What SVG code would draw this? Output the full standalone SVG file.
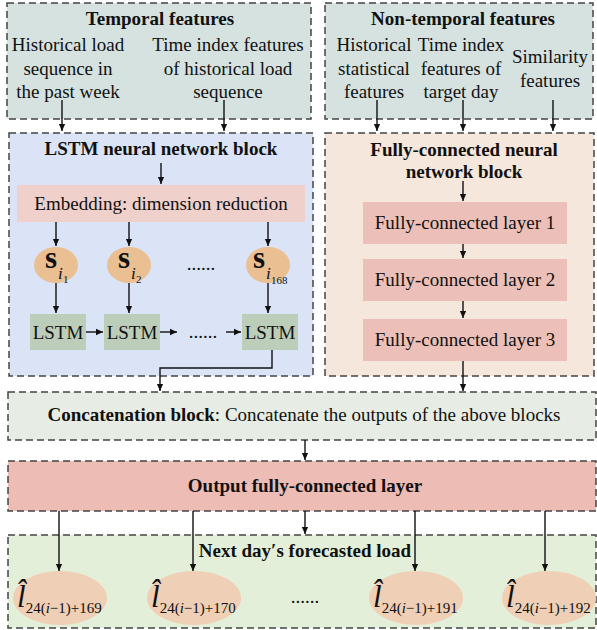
<svg xmlns="http://www.w3.org/2000/svg" width="597" height="630" viewBox="0 0 597 630" font-family="Liberation Serif, serif">
<defs>
<marker id="ah" viewBox="0 0 10 10" refX="10" refY="5" markerWidth="7" markerHeight="8" markerUnits="userSpaceOnUse" orient="auto">
<path d="M0,0.5 L10,5 L0,9.5 z" fill="#111"/>
</marker>
<style>
.blk{stroke:#444;stroke-width:1.5;stroke-dasharray:7,4}
.t{font-size:19px;fill:#111;text-anchor:middle}
.b{font-weight:bold}
.c{stroke:#111;stroke-width:1.4;fill:none}
.a{marker-end:url(#ah)}
.sub{fill:#111}
</style>
</defs>

<g id="temporal">
<rect class="blk" x="7" y="3" width="304" height="116" fill="#d5e2e0"/>
<text class="t b" x="160" y="25" font-family="Liberation Serif, serif">Temporal features</text>
<text class="t" x="68" y="51" font-family="Liberation Serif, serif">Historical load</text>
<text class="t" x="68" y="75" font-family="Liberation Serif, serif">sequence in</text>
<text class="t" x="68" y="98" font-family="Liberation Serif, serif">the past week</text>
<text class="t" x="228" y="51" font-family="Liberation Serif, serif">Time index features</text>
<text class="t" x="228" y="75" font-family="Liberation Serif, serif">of historical load</text>
<text class="t" x="228" y="98" font-family="Liberation Serif, serif">sequence</text>
</g>

<g id="nontemporal">
<rect class="blk" x="325" y="3" width="268" height="116" fill="#d5e2e0"/>
<text class="t b" x="463" y="25" font-family="Liberation Serif, serif">Non-temporal features</text>
<text class="t" x="374" y="51" font-family="Liberation Serif, serif">Historical</text>
<text class="t" x="374" y="75" font-family="Liberation Serif, serif">statistical</text>
<text class="t" x="374" y="98" font-family="Liberation Serif, serif">features</text>
<text class="t" x="461" y="51" font-family="Liberation Serif, serif">Time index</text>
<text class="t" x="461" y="75" font-family="Liberation Serif, serif">features of</text>
<text class="t" x="461" y="98" font-family="Liberation Serif, serif">target day</text>
<text class="t" x="550" y="63" font-family="Liberation Serif, serif">Similarity</text>
<text class="t" x="550" y="87" font-family="Liberation Serif, serif">features</text>
</g>

<g id="lstm-block">
<rect class="blk" x="9" y="133" width="304" height="243" fill="#dbe4f6"/>
<text class="t b" x="161" y="155" font-family="Liberation Serif, serif">LSTM neural network block</text>
</g>

<g id="embedding">
<rect x="17" y="185" width="288" height="37" fill="#f0d0cb"/>
<text class="t" x="161" y="210" font-family="Liberation Serif, serif">Embedding: dimension reduction</text>
</g>

<g id="s1">
<ellipse cx="56" cy="265" rx="22" ry="18" fill="#eabf92"/>
<text class="sub" x="45" y="268" font-size="31" font-weight="bold" font-family="Liberation Serif, serif">s</text>
<text class="sub" x="58" y="279" font-size="17" font-style="italic" font-family="Liberation Serif, serif">i</text>
<text class="sub" x="63" y="283" font-size="11" font-family="Liberation Serif, serif">1</text>
</g>
<g id="s2">
<ellipse cx="129" cy="265" rx="22" ry="18" fill="#eabf92"/>
<text class="sub" x="118" y="268" font-size="31" font-weight="bold" font-family="Liberation Serif, serif">s</text>
<text class="sub" x="131" y="279" font-size="17" font-style="italic" font-family="Liberation Serif, serif">i</text>
<text class="sub" x="136" y="283" font-size="11" font-family="Liberation Serif, serif">2</text>
</g>
<g id="s168">
<ellipse cx="268" cy="265" rx="22" ry="18" fill="#eabf92"/>
<text class="sub" x="253" y="268" font-size="31" font-weight="bold" font-family="Liberation Serif, serif">s</text>
<text class="sub" x="266" y="279" font-size="17" font-style="italic" font-family="Liberation Serif, serif">i</text>
<text class="sub" x="271" y="284" font-size="11" font-family="Liberation Serif, serif">168</text>
</g>
<text class="t" x="201" y="270" font-family="Liberation Serif, serif">......</text>

<g id="lstm1">
<rect x="30" y="314" width="56" height="36" fill="#bccdb9"/>
<text class="t" x="58" y="339" font-family="Liberation Serif, serif">LSTM</text>
</g>
<g id="lstm2">
<rect x="104" y="314" width="56" height="36" fill="#bccdb9"/>
<text class="t" x="132" y="339" font-family="Liberation Serif, serif">LSTM</text>
</g>
<g id="lstm3">
<rect x="242" y="314" width="56" height="36" fill="#bccdb9"/>
<text class="t" x="270" y="339" font-family="Liberation Serif, serif">LSTM</text>
</g>
<text class="t" x="203" y="338" font-family="Liberation Serif, serif">......</text>

<g id="fc-block">
<rect class="blk" x="325" y="133" width="269" height="243" fill="#f6e7dc"/>
<text class="t b" x="464" y="156" font-family="Liberation Serif, serif">Fully-connected neural</text>
<text class="t b" x="464" y="178" font-family="Liberation Serif, serif">network block</text>
</g>
<g id="fc1">
<rect x="363" y="202" width="204" height="42" fill="#ecc0b8"/>
<text class="t" x="465" y="229" font-family="Liberation Serif, serif">Fully-connected layer 1</text>
</g>
<g id="fc2">
<rect x="363" y="259" width="204" height="42" fill="#ecc0b8"/>
<text class="t" x="465" y="286" font-family="Liberation Serif, serif">Fully-connected layer 2</text>
</g>
<g id="fc3">
<rect x="363" y="319" width="204" height="42" fill="#ecc0b8"/>
<text class="t" x="465" y="346" font-family="Liberation Serif, serif">Fully-connected layer 3</text>
</g>

<g id="concat">
<rect class="blk" x="8" y="392" width="588" height="48" fill="#e7ede5"/>
<text class="t" x="304" y="421" font-family="Liberation Serif, serif"><tspan font-weight="bold">Concatenation block</tspan>: Concatenate the outputs of the above blocks</text>
</g>

<g id="output">
<rect class="blk" x="8" y="461" width="588" height="50" fill="#ecbcb5"/>
<text class="t b" x="305" y="492" font-family="Liberation Serif, serif">Output fully-connected layer</text>
</g>

<g id="nextday">
<rect class="blk" x="8" y="535" width="588" height="93" fill="#e4efd9"/>
<text class="t b" x="305" y="557" font-family="Liberation Serif, serif">Next day′s forecasted load</text>
</g>

<g id="l169">
<ellipse cx="60" cy="598" rx="47" ry="27" fill="#efcfb5"/>
<text class="sub" x="17" y="607" font-size="31" font-style="italic" font-family="Liberation Serif, serif">l̂<tspan font-size="15" font-style="normal" dy="6">24(<tspan font-style="italic">i</tspan>−1)+169</tspan></text>
</g>
<g id="l170">
<ellipse cx="194" cy="598" rx="47" ry="27" fill="#efcfb5"/>
<text class="sub" x="151" y="607" font-size="31" font-style="italic" font-family="Liberation Serif, serif">l̂<tspan font-size="15" font-style="normal" dy="6">24(<tspan font-style="italic">i</tspan>−1)+170</tspan></text>
</g>
<g id="l191">
<ellipse cx="416" cy="598" rx="47" ry="27" fill="#efcfb5"/>
<text class="sub" x="373" y="607" font-size="31" font-style="italic" font-family="Liberation Serif, serif">l̂<tspan font-size="15" font-style="normal" dy="6">24(<tspan font-style="italic">i</tspan>−1)+191</tspan></text>
</g>
<g id="l192">
<ellipse cx="549" cy="598" rx="47" ry="27" fill="#efcfb5"/>
<text class="sub" x="506" y="607" font-size="31" font-style="italic" font-family="Liberation Serif, serif">l̂<tspan font-size="15" font-style="normal" dy="6">24(<tspan font-style="italic">i</tspan>−1)+192</tspan></text>
</g>
<text class="t" x="305" y="603" font-family="Liberation Serif, serif">......</text>

<g id="connectors">
<line class="c a" x1="62" y1="100" x2="62" y2="131"/>
<line class="c a" x1="224" y1="100" x2="224" y2="131"/>
<line class="c a" x1="377" y1="100" x2="377" y2="131"/>
<line class="c a" x1="463" y1="100" x2="463" y2="131"/>
<line class="c a" x1="553" y1="100" x2="553" y2="131"/>
<line class="c a" x1="161" y1="163" x2="161" y2="184"/>
<line class="c a" x1="56" y1="222" x2="56" y2="246"/>
<line class="c a" x1="129" y1="222" x2="129" y2="246"/>
<line class="c a" x1="268" y1="222" x2="268" y2="246"/>
<line class="c a" x1="56" y1="283" x2="56" y2="313"/>
<line class="c a" x1="129" y1="283" x2="129" y2="313"/>
<line class="c a" x1="268" y1="283" x2="268" y2="313"/>
<line class="c a" x1="86" y1="332" x2="103" y2="332"/>
<line class="c a" x1="160" y1="332" x2="177" y2="332"/>
<line class="c a" x1="226" y1="332" x2="241" y2="332"/>
<polyline class="c a" points="272,350 272,368 160,368 160,391"/>
<line class="c a" x1="463" y1="181" x2="463" y2="201"/>
<line class="c a" x1="463" y1="244" x2="463" y2="258"/>
<line class="c a" x1="463" y1="301" x2="463" y2="318"/>
<line class="c a" x1="463" y1="361" x2="463" y2="391"/>
<line class="c a" x1="305" y1="440" x2="305" y2="460"/>
<line class="c a" x1="59" y1="511" x2="59" y2="571"/>
<line class="c a" x1="193" y1="511" x2="193" y2="571"/>
<line class="c a" x1="305" y1="511" x2="305" y2="534"/>
<line class="c a" x1="415" y1="511" x2="415" y2="571"/>
<line class="c a" x1="545" y1="511" x2="545" y2="571"/>
</g>
</svg>
